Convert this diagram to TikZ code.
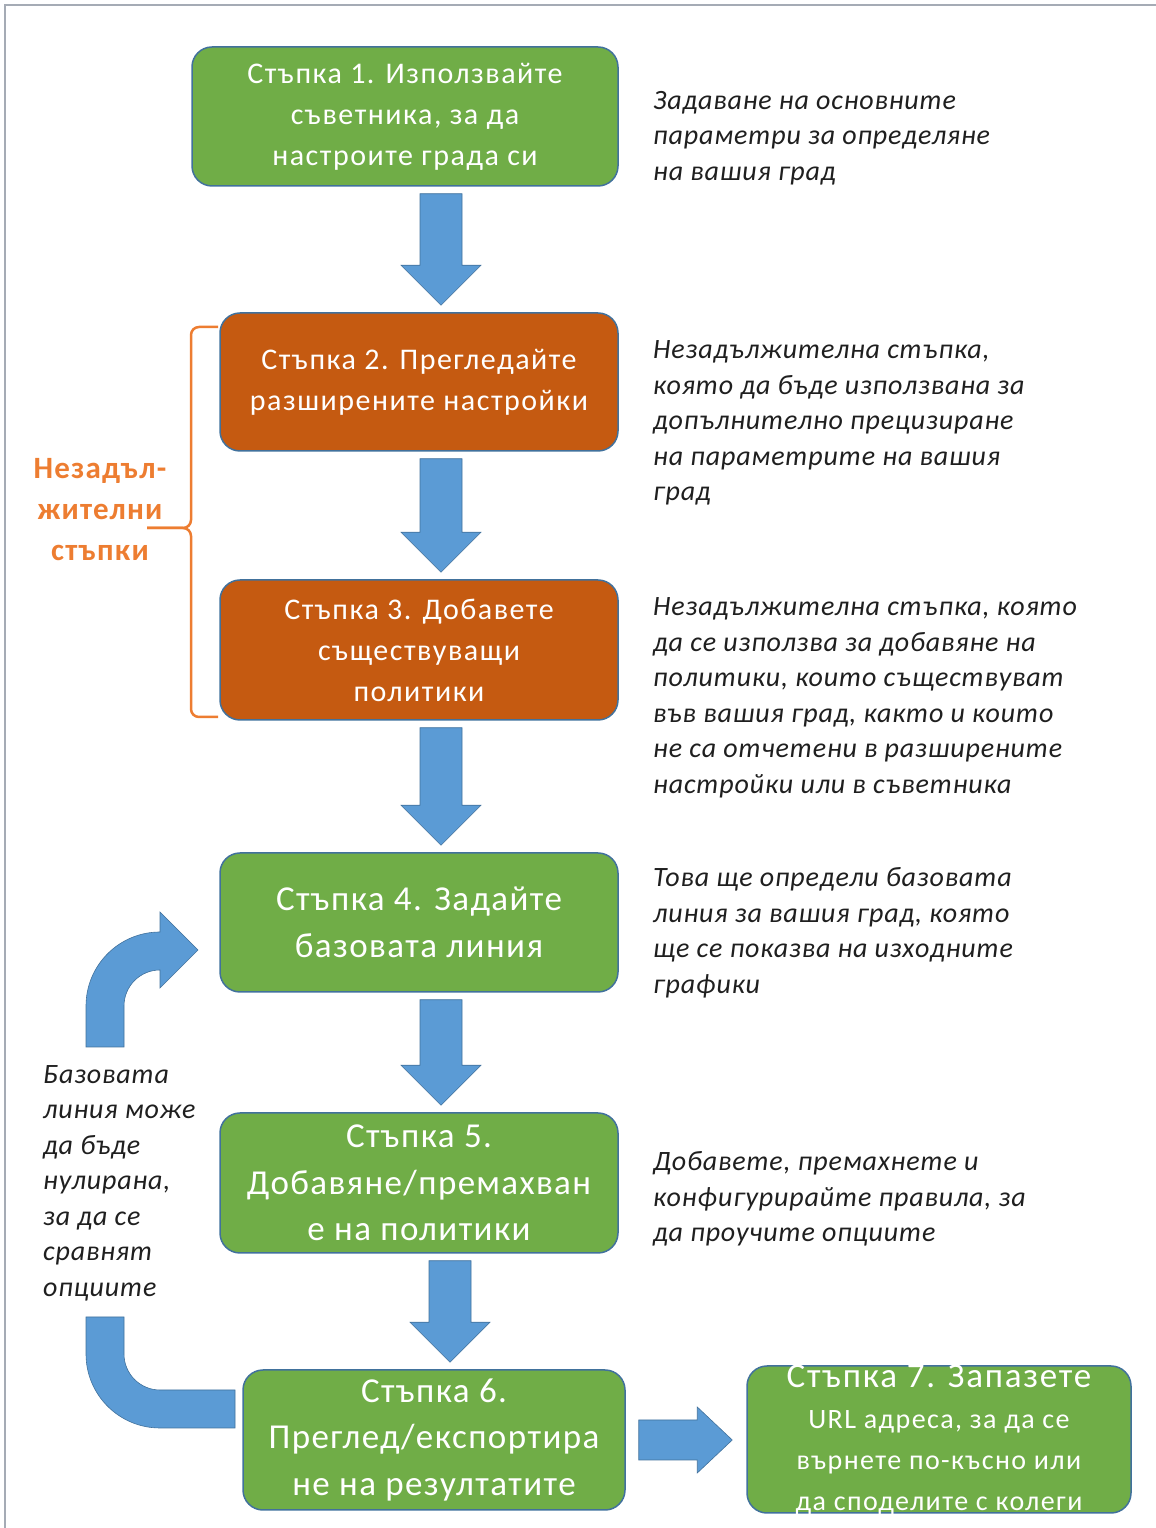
\documentclass[tikz,border=0pt]{standalone}
\usepackage{fontspec}
\setmainfont{Carlito}
\usetikzlibrary{calc}
\definecolor{mycolor1}{RGB}{112,173,71}
\definecolor{mycolor2}{RGB}{197,90,17}
\definecolor{mycolor3}{RGB}{91,155,213}
\definecolor{mycolor4}{RGB}{65,113,156}
\definecolor{mycolor5}{RGB}{237,125,49}
\definecolor{mycolor6}{RGB}{165,171,181}

% block arrow at x=#1, from node #2 down to node #3
\newcommand{\downblock}[3]{%
  \draw[blockarrow] let \p1=(#2.south), \p2=(#3.north) in
    (#1pt-21pt,\y1-7pt) -- (#1pt+21pt,\y1-7pt) -- (#1pt+21pt,\y2+47pt)
    -- (#1pt+40pt,\y2+47pt) -- (#1pt,\y2+7pt) -- (#1pt-40pt,\y2+47pt)
    -- (#1pt-21pt,\y2+47pt) -- cycle;}

\begin{document}
\begin{tikzpicture}[x=1pt,y=1pt,
  stepbox/.style={draw=mycolor4, line width=1.5pt, rounded corners=20pt, text=white,
    align=center, inner sep=0pt, font=\fontsize{30}{41}\selectfont\addfontfeatures{LetterSpace=5}},
  bigstep/.style={stepbox, font=\fontsize{35}{46.5}\selectfont\addfontfeatures{LetterSpace=4}},
  desc/.style={anchor=west, align=left, inner sep=0pt, text=black!88,
    font=\fontsize{28}{35.5}\selectfont\itshape\addfontfeatures{LetterSpace=3}},
  blockarrow/.style={fill=mycolor3, draw=mycolor4, line width=0.6pt}]
  \useasboundingbox (0,0) rectangle (1156,1528);
  \draw[mycolor6, line width=1.5pt] (5,0) -- (5,1523) -- (1156,1523); % frame

  % steps
  \node (s1) at (405,1411.5) [stepbox, fill=mycolor1, minimum width=426pt, minimum height=139pt]
    {Стъпка 1. Използвайте\\съветника, за да\\настроите града си};
  \node (s2) at (419,1146) [stepbox, fill=mycolor2, minimum width=398pt, minimum height=138pt]
    {Стъпка 2. Прегледайте\\разширените настройки};
  \node (s3) at (419,878) [stepbox, fill=mycolor2, minimum width=398pt, minimum height=140pt]
    {Стъпка 3. Добавете\\съществуващи\\политики};
  \node (s4) at (419,605.5) [bigstep, fill=mycolor1, minimum width=398pt, minimum height=139pt]
    {Стъпка 4. Задайте\\базовата линия};
  \node (s5) at (419,345) [bigstep, fill=mycolor1, minimum width=398pt, minimum height=140pt]
    {Стъпка 5.\\Добавяне/премахван\\е на политики};
  \node (s6) at (434,88) [bigstep, fill=mycolor1, minimum width=382pt, minimum height=140pt]
    {Стъпка 6.\\Преглед/експортира\\не на резултатите};
  \node (s7) at (939,88.5) [stepbox, fill=mycolor1, minimum width=384pt, minimum height=147pt]{};
  \node (s7t) at (s7.center) [align=center, inner sep=0pt, text=white,
    font=\fontsize{28}{41}\selectfont\addfontfeatures{LetterSpace=5}]
    {{\fontsize{35}{41}\selectfont Стъпка 7. Запазете}\\URL адреса, за да се\\върнете по-късно или\\да споделите с колеги};

  % arrows
  \downblock{441}{s1}{s2}
  \downblock{441}{s2}{s3}
  \downblock{441}{s3}{s4}
  \downblock{441}{s4}{s5}
  \downblock{450}{s5}{s6}
  \draw[blockarrow] let \p1=(s6.east), \p2=(s7.west) in
    (\x1+13pt,\y1-20pt) -- (\x2-49pt,\y1-20pt) -- (\x2-49pt,\y1-33pt) -- (\x2-14pt,\y1)
    -- (\x2-49pt,\y1+33pt) -- (\x2-49pt,\y1+20pt) -- (\x1+13pt,\y1+20pt) -- cycle;
  \draw[blockarrow] (86,481) -- (86,522) arc[start angle=180, end angle=90, radius=74]
    -- (160,616) -- (198,578) -- (160,540) -- (160,558)
    arc[start angle=90, end angle=180, radius=36] -- (124,481) -- cycle; % back to step 4
  \draw[blockarrow] (86,211) -- (86,174) arc[start angle=180, end angle=270, radius=74]
    -- (235,100) -- (235,138) -- (160,138)
    arc[start angle=270, end angle=180, radius=36] -- (124,211) -- cycle; % from step 6

  % optional steps
  \draw[mycolor5, line width=2.5pt, rounded corners=8pt] (218,1201) -- (191,1201) -- (191,1000) -- (147,1000);
  \draw[mycolor5, line width=2.5pt, rounded corners=8pt] (147,1000) -- (191,1000) -- (191,811) -- (218,811);
  \node (opt) at (100,1018) [align=center, inner sep=0pt, text=mycolor5,
    font=\fontsize{31}{41}\selectfont\bfseries\addfontfeatures{LetterSpace=4}]
    {Незадъл-\\жителни\\стъпки};

  % descriptions
  \node (d1) at (653,1390) [desc]{Задаване на основните\\параметри за определяне\\на вашия град};
  \node (d2) at (653,1105) [desc]{Незадължителна стъпка,\\която да бъде използвана за\\допълнително прецизиране\\на параметрите на вашия\\град};
  \node (d3) at (653,830) [desc]{Незадължителна стъпка, която\\да се използва за добавяне на\\политики, които съществуват\\във вашия град, както и които\\не са отчетени в разширените\\настройки или в съветника};
  \node (d4) at (653,595) [desc]{Това ще определи базовата\\линия за вашия град, която\\ще се показва на изходните\\графики};
  \node (d5) at (653,329) [desc]{Добавете, премахнете и\\конфигурирайте правила, за\\да проучите опциите};
  \node (d6) at (43,345) [desc]{Базовата\\линия може\\да бъде\\нулирана,\\за да се\\сравнят\\опциите};
\end{tikzpicture}
\end{document}
